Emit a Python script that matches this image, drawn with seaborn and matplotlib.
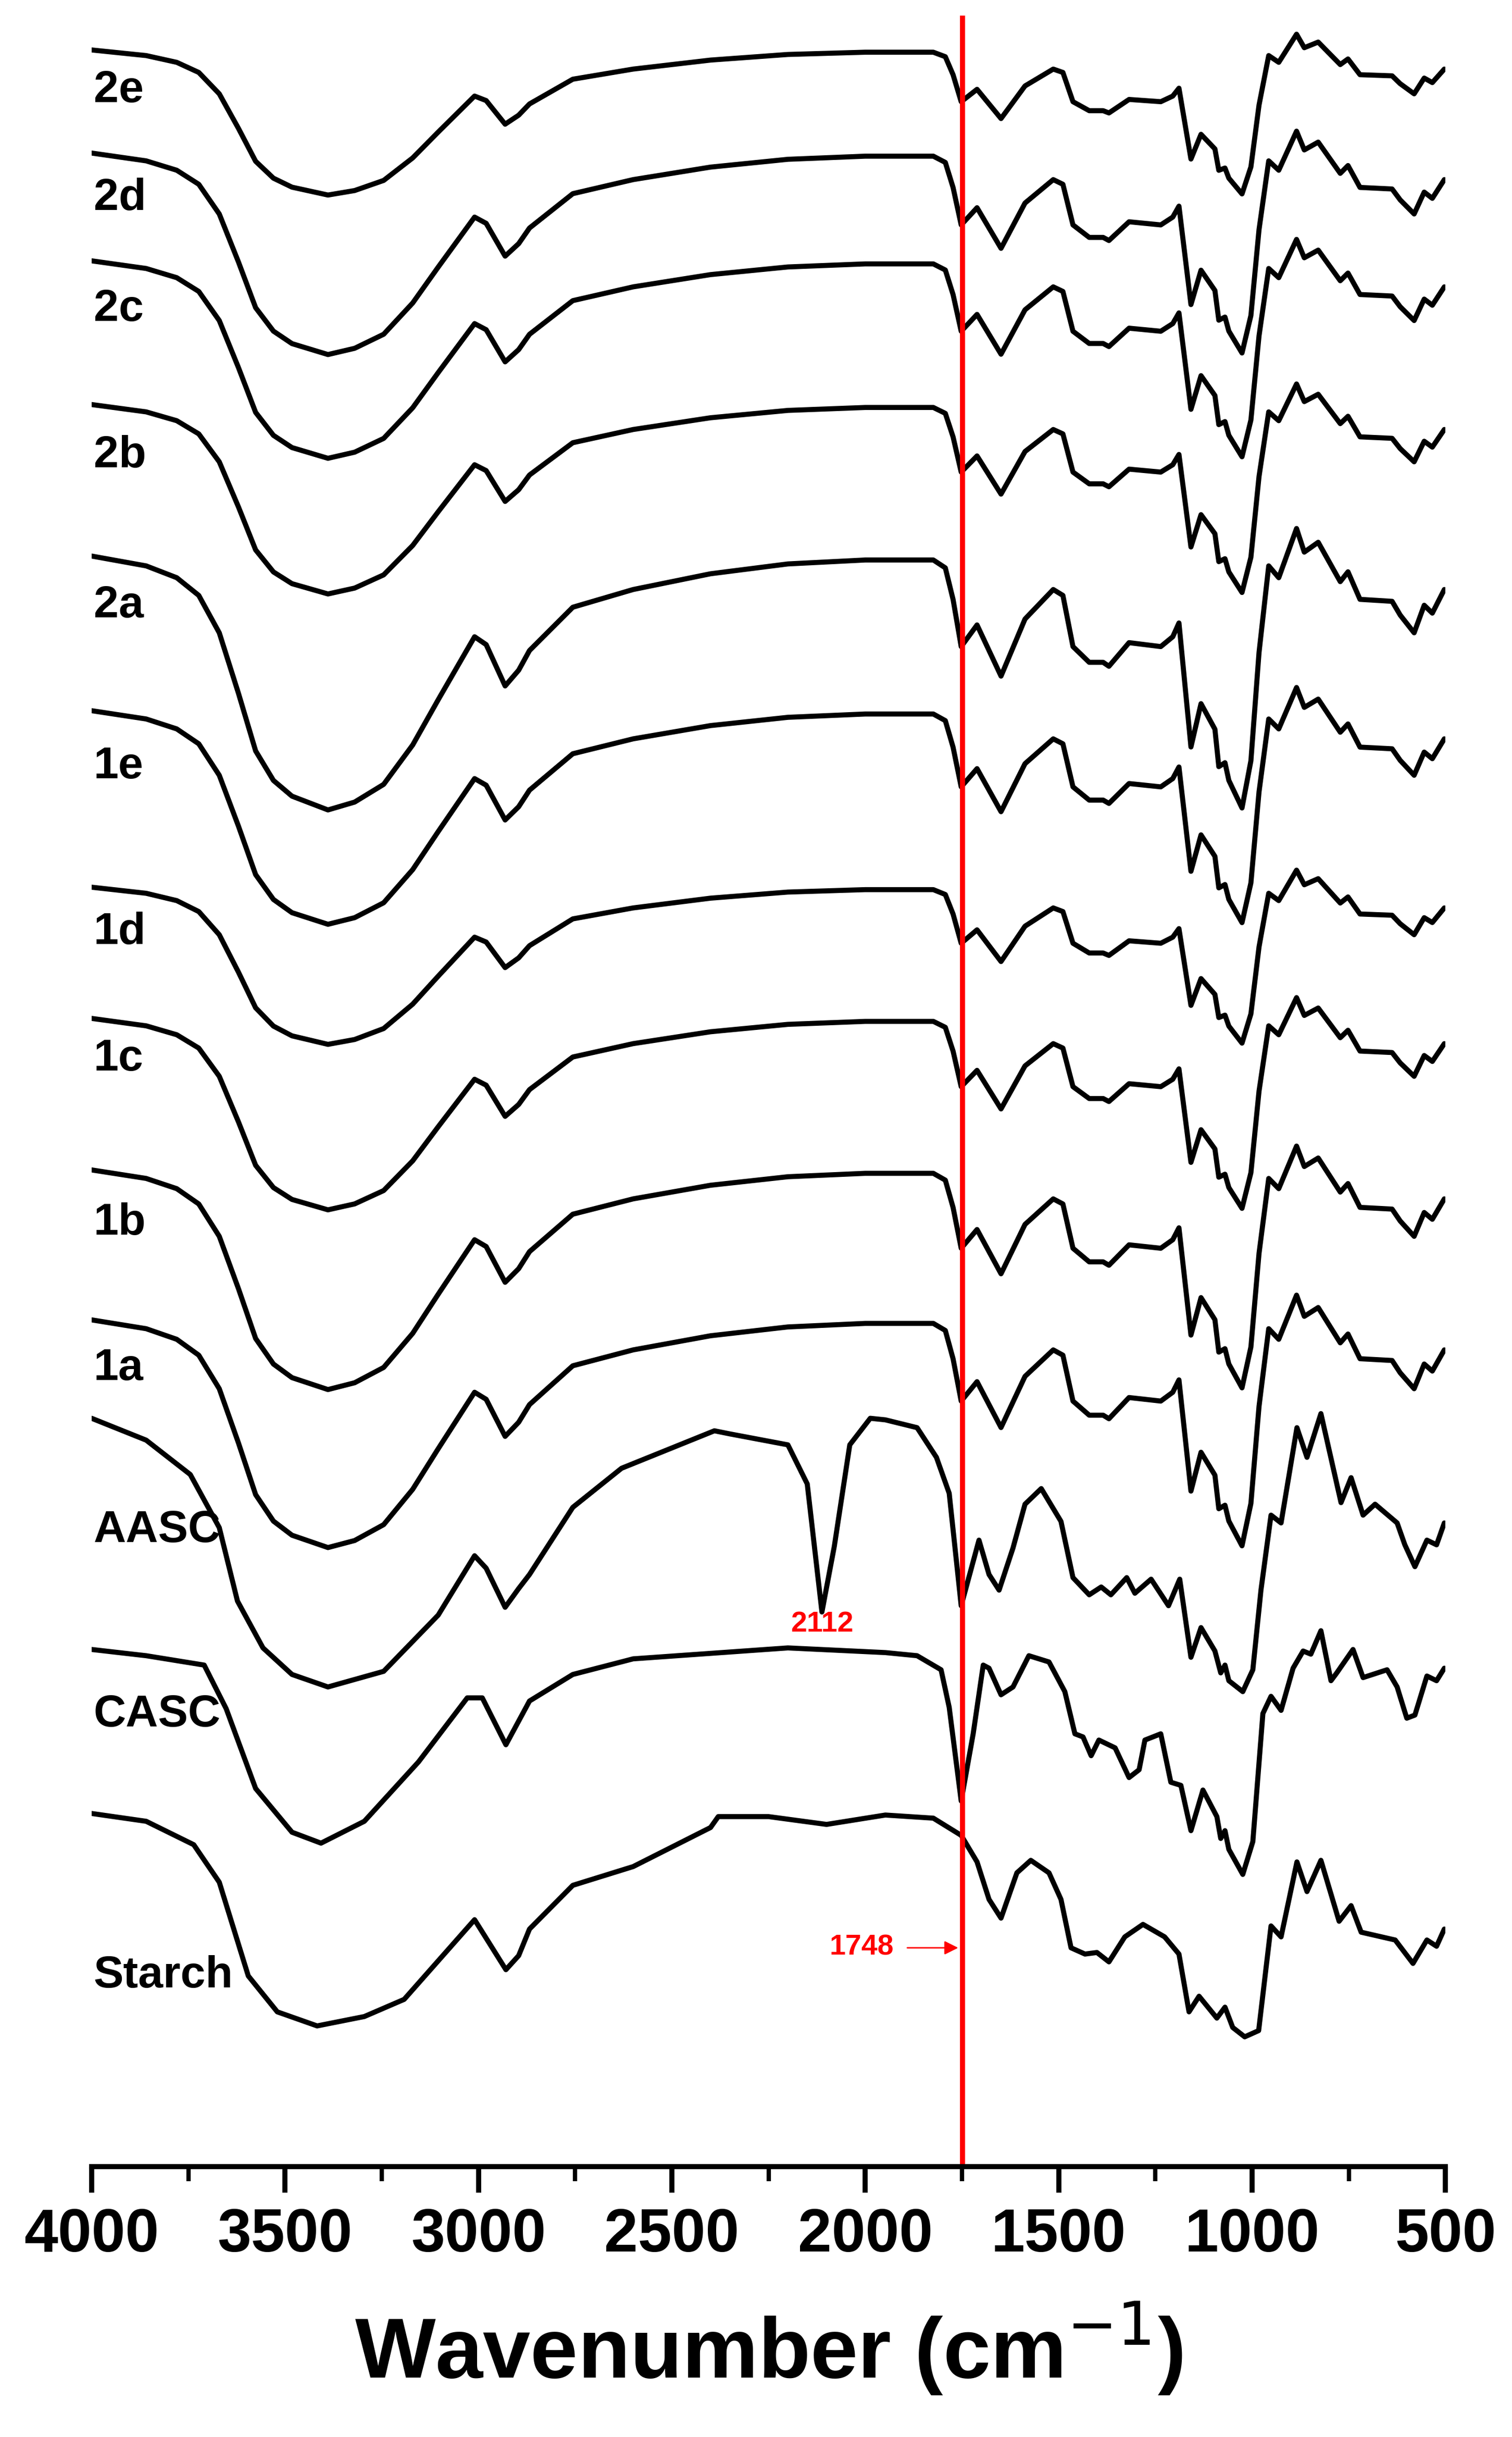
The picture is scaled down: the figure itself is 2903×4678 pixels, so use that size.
import numpy as np
import pandas as pd
import matplotlib
matplotlib.use("Agg")
import matplotlib.pyplot as plt
import seaborn as sns
from matplotlib.ticker import MultipleLocator

# Reference profile of sample 2d (wavenumber, offset-shifted y, larger = lower on the plot)
prof_wn = [4000, 3859, 3780, 3723, 3670, 3620, 3576, 3530, 3482, 3389, 3320, 3245, 3170, 3104, 3010, 2980, 2931, 2896, 2868, 2756,
           2600, 2400, 2200, 2000, 1948, 1824, 1793, 1773, 1752, 1711, 1649, 1587, 1514, 1489, 1463,
           1421, 1385, 1370, 1318, 1236, 1205, 1189, 1158, 1132, 1096, 1086, 1070, 1060, 1026, 1003,
           982, 957, 931, 885, 865, 829, 772, 752, 721, 638, 617, 581, 555, 534, 503]
prof_y = [98, 103, 109, 118, 137, 168, 197, 212, 220, 227, 223, 214, 194, 171, 139, 143, 164, 156, 146, 124,
          115, 107, 102, 100, 100, 100, 104, 120, 144, 133, 159, 130, 115, 118, 144,
          152, 152, 154, 142, 144, 139, 132, 195, 173, 186, 205, 203, 212, 226, 202,
          147, 103, 109, 84, 96, 91, 111, 106, 120, 121, 128, 137, 123, 127, 115]

mod_names = ["2e", "2d", "2c", "2b", "2a", "1e", "1d", "1c", "1b", "1a"]
mod_start = [32, 98, 167, 259, 356, 455, 568, 652, 749, 845]
mod_depth = [0.72, 1.0, 0.98, 0.94, 1.26, 1.06, 0.78, 0.95, 1.09, 1.13]

aasc_wn = [4000, 3859, 3745, 3670, 3623, 3557, 3482, 3389, 3245, 3104, 3010, 2980, 2931, 2896, 2868,
           2756, 2630, 2390, 2350, 2200, 2150, 2112, 2080, 2040, 1987, 1948, 1866, 1816, 1783, 1752,
           1706, 1680, 1654, 1618, 1587, 1545, 1494, 1463, 1421, 1390, 1365, 1324, 1303, 1261, 1216,
           1187, 1158, 1132, 1096, 1081, 1070, 1060, 1024, 998, 977, 951, 925, 884, 858, 822,
           770, 744, 713, 682, 625, 605, 579, 548, 523, 503]
aasc_y = [908, 922, 944, 978, 1025, 1055, 1072, 1080, 1070, 1034, 996, 1004, 1029, 1017, 1008,
          965, 940, 916, 918, 925, 950, 1032, 990, 925, 908, 909, 914, 933, 956, 1028,
          986, 1008, 1018, 991, 963, 953, 974, 1010, 1021, 1016, 1021, 1010, 1020, 1011, 1028,
          1011, 1061, 1042, 1057, 1071, 1066, 1076, 1083, 1069, 1018, 970, 975, 914, 933, 905,
          962, 946, 970, 963, 975, 989, 1003, 986, 989, 975]

casc_wn = [4000, 3859, 3709, 3652, 3576, 3482, 3407, 3295, 3155, 3029, 2990, 2929, 2868, 2756, 2600,
           2200, 1948, 1866, 1804, 1783, 1752, 1721, 1695, 1680, 1649, 1618, 1577, 1525, 1484, 1458,
           1437, 1416, 1396, 1354, 1318, 1292, 1277, 1236, 1210, 1184, 1158, 1127, 1091, 1081, 1070,
           1060, 1024, 998, 972, 951, 925, 894, 868, 848, 822, 796, 781, 739, 713, 651,
           625, 600, 579, 548, 523, 503]
casc_y = [1056, 1060, 1066, 1094, 1145, 1173, 1180, 1166, 1128, 1087, 1087, 1117, 1089, 1072, 1062,
          1055, 1058, 1060, 1069, 1093, 1153, 1110, 1066, 1068, 1085, 1080, 1060, 1064, 1083, 1110,
          1112, 1124, 1114, 1119, 1138, 1133, 1114, 1110, 1141, 1143, 1172, 1146, 1163, 1177, 1172,
          1184, 1200, 1179, 1097, 1086, 1095, 1068, 1057, 1059, 1044, 1076, 1071, 1056, 1074, 1069,
          1080, 1100, 1098, 1073, 1076, 1068]

starch_wn = [4000, 3859, 3736, 3670, 3595, 3520, 3417, 3295, 3192, 3010, 2929, 2896, 2868, 2756, 2600,
             2400, 2380, 2250, 2100, 1948, 1824, 1752, 1711, 1680, 1649, 1608, 1572, 1525, 1494, 1468,
             1432, 1401, 1370, 1329, 1282, 1226, 1189, 1163, 1137, 1091, 1070, 1050, 1019, 983, 951,
             925, 884, 858, 822, 775, 744, 718, 630, 584, 548, 523, 503]
starch_y = [1161, 1166, 1181, 1205, 1265, 1288, 1297, 1291, 1280, 1229, 1261, 1252, 1235, 1207, 1195,
            1170, 1163, 1163, 1168, 1162, 1164, 1175, 1192, 1216, 1228, 1199, 1191, 1199, 1216, 1247,
            1251, 1250, 1256, 1240, 1232, 1240, 1251, 1288, 1278, 1292, 1285, 1298, 1304, 1300, 1233,
            1240, 1192, 1211, 1191, 1230, 1220, 1237, 1242, 1257, 1242, 1246, 1235]

label_pos = {"2e": 58, "2d": 127, "2c": 198, "2b": 292, "2a": 388, "1e": 491, "1d": 597,
             "1c": 678, "1b": 783, "1a": 876, "AASC": 980, "CASC": 1098, "Starch": 1265}

rows = []
pw = np.array(prof_wn)
py = np.array(prof_y) - prof_y[0]
for name, s, d in zip(mod_names, mod_start, mod_depth):
    for w, v in zip(pw, py):
        rows.append((name, w, s + d * v))
for name, wn, yy in [("AASC", aasc_wn, aasc_y), ("CASC", casc_wn, casc_y), ("Starch", starch_wn, starch_y)]:
    for w, v in zip(wn, yy):
        rows.append((name, w, v))
df = pd.DataFrame(rows, columns=["sample", "wn", "y"])

sns.set_style("white")
plt.rcParams["font.family"] = ["Liberation Sans", "DejaVu Sans"]
plt.rcParams["text.color"] = "black"
plt.rcParams["xtick.color"] = "black"
plt.rcParams["axes.labelcolor"] = "black"

fig = plt.figure(figsize=(29.03, 46.78), dpi=100)
ax = fig.add_axes([0.0606, 0.111, 0.8954, 0.8826])
sns.lineplot(data=df, x="wn", y="y", units="sample", estimator=None, sort=False,
             color="black", lw=7, ax=ax, legend=False, solid_joinstyle="round")

ax.axvline(1748, color="#ff0000", lw=7)
ax.set_xlim(4000, 500)
ax.set_ylim(1387, 10)

for name, yl in label_pos.items():
    ax.text(3995, yl, name, fontsize=62, fontweight="bold", va="center", ha="left", color="black")

ax.text(2112, 1040, "2112", color="#ff0000", fontsize=40, fontweight="bold", ha="center", va="center")
ax.text(2010, 1247, "1748", color="#ff0000", fontsize=40, fontweight="bold", ha="center", va="center")
ax.annotate("", xy=(1756, 1247), xytext=(1895, 1247),
            arrowprops=dict(arrowstyle="-|>", color="#ff0000", lw=2, mutation_scale=40))

for sp in ["top", "left", "right"]:
    ax.spines[sp].set_visible(False)
ax.spines["bottom"].set_linewidth(7)
ax.spines["bottom"].set_color("black")
ax.set_yticks([])
ax.set_ylabel("")
ax.xaxis.set_major_locator(MultipleLocator(500))
ax.xaxis.set_minor_locator(MultipleLocator(250))
ax.tick_params(axis="x", which="major", direction="out", length=36, width=7,
               labelsize=84, pad=20, bottom=True, colors="black")
ax.tick_params(axis="x", which="minor", direction="out", length=20, width=6, bottom=True)
for t in ax.get_xticklabels():
    t.set_fontweight("bold")
ax.set_xlabel("Wavenumber (cm$^{-1}$)", fontsize=118, fontweight="bold", labelpad=50, color="black")

fig.savefig("out.png", dpi=100)
